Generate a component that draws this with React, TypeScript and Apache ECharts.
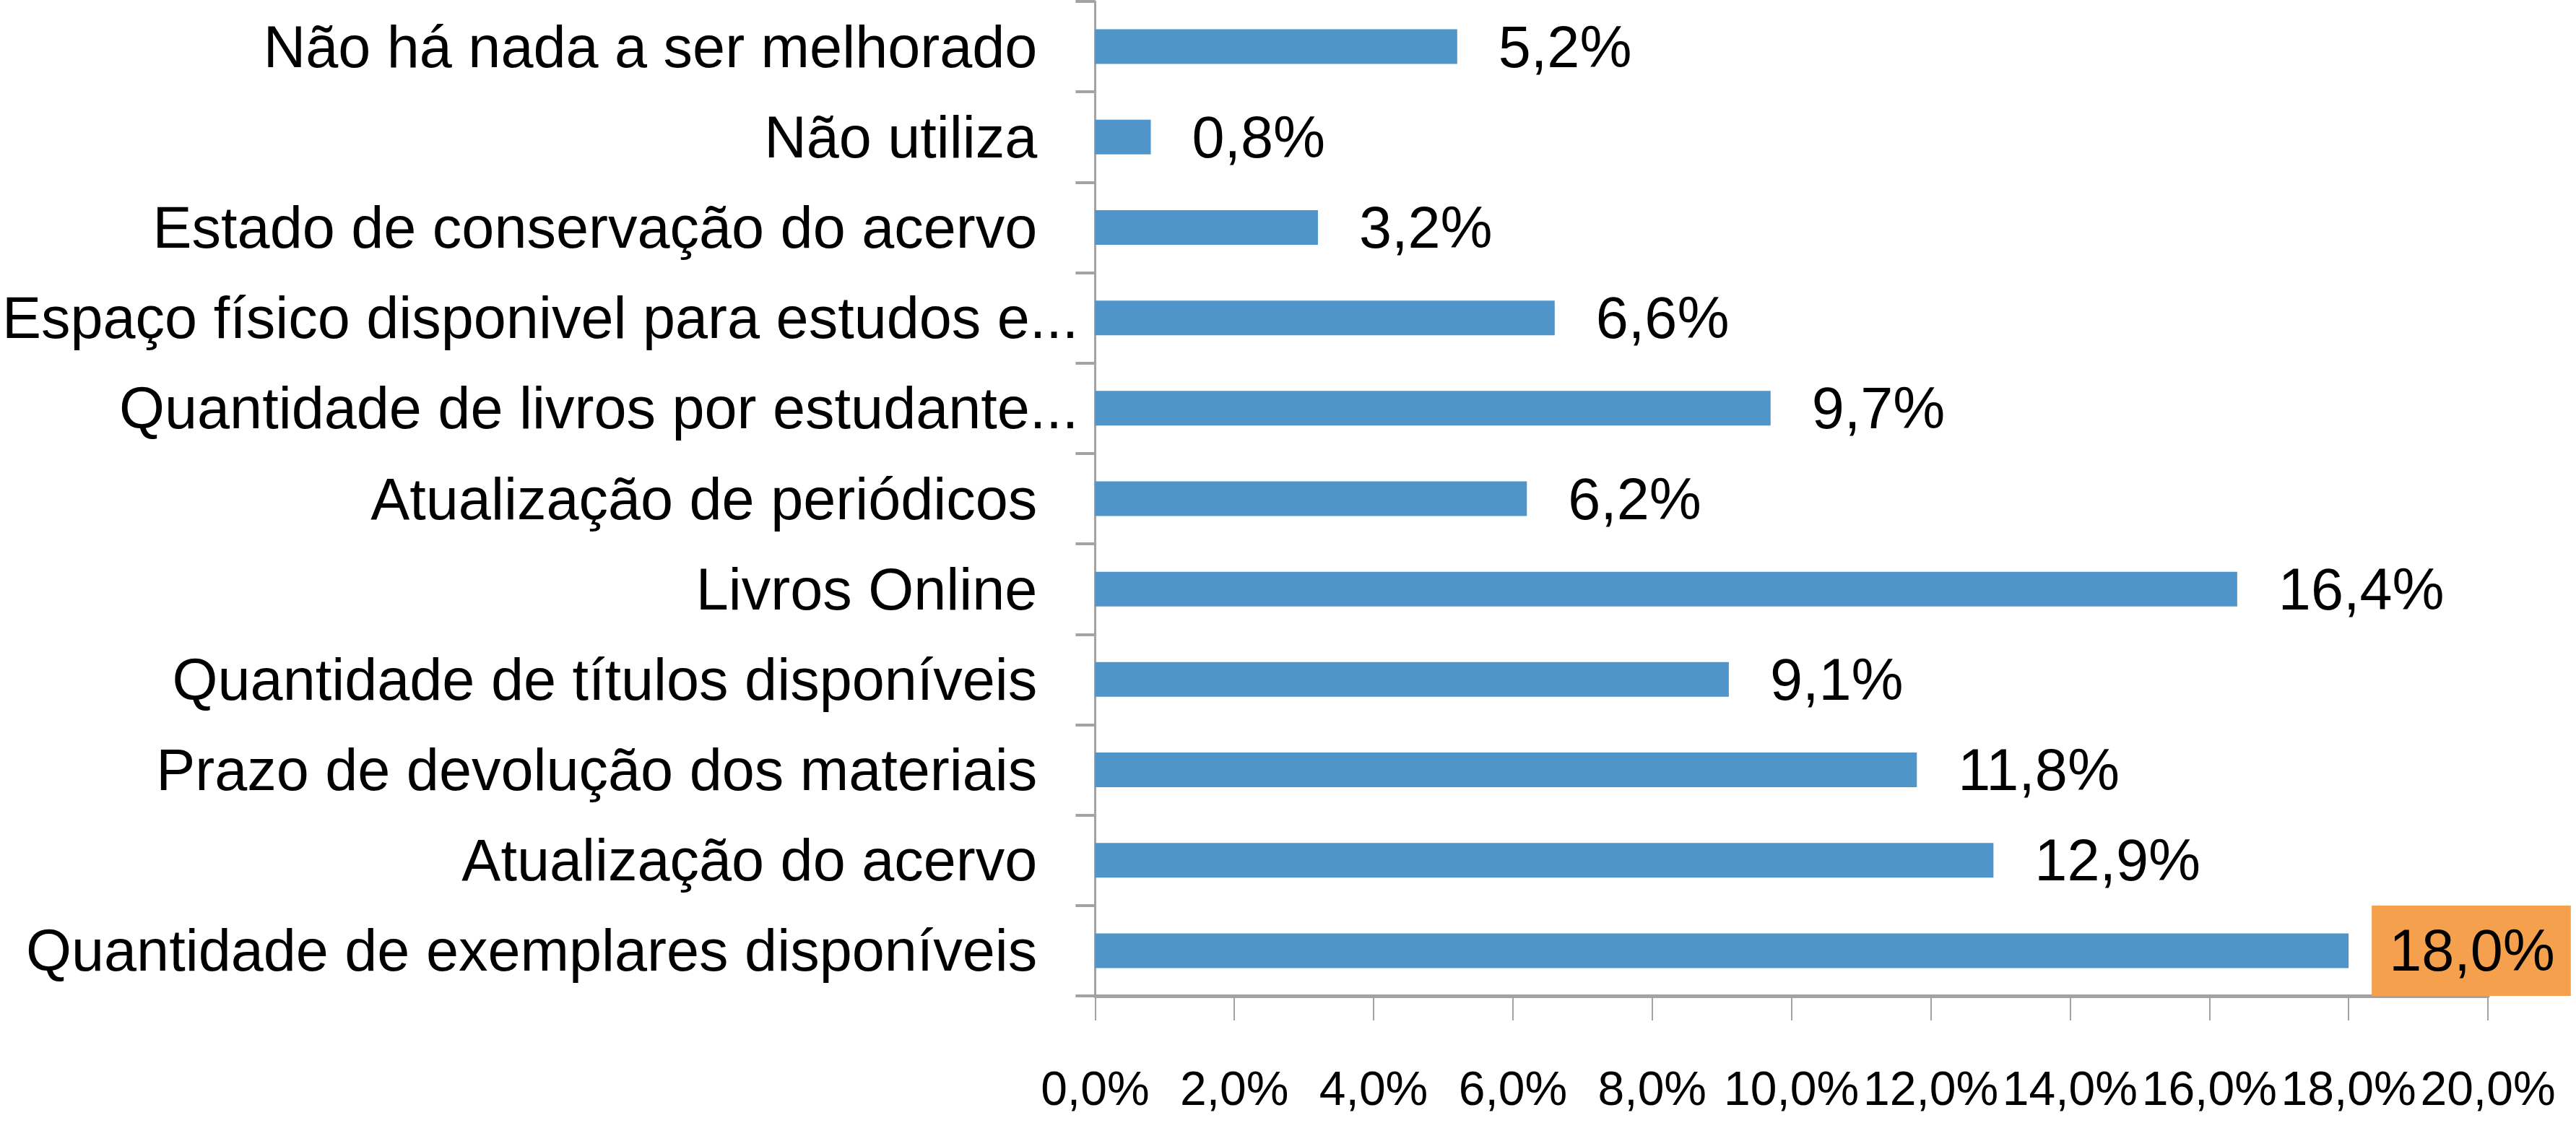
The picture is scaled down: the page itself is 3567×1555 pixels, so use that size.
import React, { useEffect, useRef } from "react";
import * as echarts from "echarts";

const categories: string[] = [
  "Não há nada a ser melhorado",
  "Não utiliza",
  "Estado de conservação do acervo",
  "Espaço físico disponivel para estudos e...",
  "Quantidade de livros por estudante...",
  "Atualização de periódicos",
  "Livros Online",
  "Quantidade de títulos disponíveis",
  "Prazo de devolução dos materiais",
  "Atualização do acervo",
  "Quantidade de exemplares disponíveis",
];

const values: number[] = [5.2, 0.8, 3.2, 6.6, 9.7, 6.2, 16.4, 9.1, 11.8, 12.9, 18.0];

const highlightedIndex = 10;

const axisMin = 0;
const axisMax = 20;
const axisInterval = 2;

const FONT = "Liberation Sans";
const FS = 81;
const TICK_FS = 66;

function fmt(v: number): string {
  return v.toFixed(1).replace(".", ",") + "%";
}

export default function App() {
  const ref = useRef<HTMLDivElement>(null);

  useEffect(() => {
    document.body.style.margin = "0";
    if (!ref.current) return;
    const chart = echarts.init(ref.current, undefined, { renderer: "svg" });

    const data = values.map((v, i) => {
      if (i === highlightedIndex) {
        return {
          value: v,
          label: {
            backgroundColor: "#F5A04C",
            padding: [22, 22, 22, 24],
            distance: 32,
          },
        };
      }
      return { value: v };
    });

    chart.setOption({
      animation: false,
      backgroundColor: "#ffffff",
      grid: {
        left: 1513,
        right: 122,
        top: 2,
        bottom: 176,
        containLabel: false,
      },
      xAxis: {
        type: "value",
        min: axisMin,
        max: axisMax,
        interval: axisInterval,
        splitLine: { show: false },
        axisLine: { show: true, lineStyle: { color: "#a3a3a3", width: 5 } },
        axisTick: { show: true, length: 34, lineStyle: { color: "#a3a3a3", width: 2 } },
        axisLabel: {
          margin: 128,
          verticalAlign: "middle",
          showMaxLabel: true,
          showMinLabel: true,
          hideOverlap: false,
          color: "#000",
          fontFamily: FONT,
          fontSize: TICK_FS,
          formatter: (v: number) => fmt(v),
        },
      },
      yAxis: {
        type: "category",
        inverse: true,
        data: categories,
        axisLine: { show: true, lineStyle: { color: "#a3a3a3", width: 3 } },
        axisTick: { show: true, length: 27, lineStyle: { color: "#a3a3a3", width: 4 } },
        axisLabel: {
          margin: 23,
          color: "#000",
          fontFamily: FONT,
          fontSize: FS,
          formatter: (v: string) => (v.endsWith("...") ? `{e|${v}}` : `{n|${v}}`),
          rich: {
            n: { fontFamily: FONT, fontSize: FS, color: "#000", padding: [0, 57, 0, 0] },
            e: { fontFamily: FONT, fontSize: FS, color: "#000" },
          },
        },
      },
      series: [
        {
          type: "bar",
          data,
          barWidth: 48,
          itemStyle: { color: "#4F95C9" },
          label: {
            show: true,
            position: "right",
            distance: 57,
            color: "#000",
            fontFamily: FONT,
            fontSize: FS,
            formatter: (p: any) => fmt(p.value),
          },
        },
      ],
    });

    return () => {
      chart.dispose();
    };
  }, []);

  return <div ref={ref} style={{ width: 3567, height: 1555 }} />;
}
